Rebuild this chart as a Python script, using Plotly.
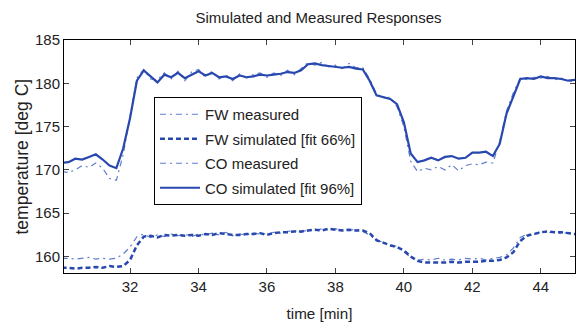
import plotly.graph_objects as go

time_min = [30.0, 30.2, 30.4, 30.6, 30.8, 31.0, 31.2, 31.4, 31.6, 31.8,
            32.0, 32.2, 32.4, 32.6, 32.8, 33.0, 33.2, 33.4, 33.6, 33.8,
            34.0, 34.2, 34.4, 34.6, 34.8, 35.0, 35.2, 35.4, 35.6, 35.8,
            36.0, 36.2, 36.4, 36.6, 36.8, 37.0, 37.2, 37.4, 37.6, 37.8,
            38.0, 38.2, 38.4, 38.6, 38.8, 39.0, 39.2, 39.4, 39.6, 39.8,
            40.0, 40.2, 40.4, 40.6, 40.8, 41.0, 41.2, 41.4, 41.6, 41.8,
            42.0, 42.2, 42.4, 42.6, 42.8, 43.0, 43.2, 43.4, 43.6, 43.8,
            44.0, 44.2, 44.4, 44.6, 44.8, 45.0]

co_simulated = [170.8, 170.9, 171.3, 171.2, 171.5, 171.8, 171.2, 170.5, 170.2, 172.5,
                176.0, 180.3, 181.5, 180.8, 180.1, 181.0, 180.7, 181.2, 180.6, 181.0,
                181.4, 180.9, 181.2, 180.7, 180.8, 180.5, 180.9, 180.7, 180.8, 181.0,
                180.9, 181.0, 181.1, 181.3, 181.2, 181.5, 182.2, 182.3, 182.1, 182.0,
                181.9, 181.8, 181.9, 181.7, 181.6, 180.3, 178.6, 178.4, 178.2, 177.6,
                175.5, 171.9, 170.9, 171.1, 171.4, 171.1, 171.5, 171.6, 171.3, 171.4,
                172.0, 172.0, 172.1, 171.6, 173.0, 176.5, 178.6, 180.5, 180.6, 180.5,
                180.8, 180.6, 180.6, 180.5, 180.3, 180.4]

co_measured = [169.8, 169.7, 170.0, 170.5, 170.3, 170.8, 170.2, 169.0, 168.8, 171.8,
               176.2, 180.6, 181.6, 180.5, 180.4, 181.2, 180.5, 181.4, 180.3, 181.3,
               181.6, 180.7, 181.4, 180.5, 181.0, 180.3, 181.1, 180.6, 181.0, 181.2,
               180.7, 181.2, 180.9, 181.5, 181.0, 181.7, 182.4, 182.1, 182.4, 181.9,
               182.1, 181.7, 182.3, 181.8, 181.8, 180.5, 178.8, 178.3, 178.4, 177.3,
               175.0, 171.0, 169.8, 170.2, 170.0, 170.4, 170.0, 170.6, 169.9, 170.5,
               170.7, 170.6, 170.9, 170.8, 173.3, 176.8, 178.9, 180.6, 180.4, 180.7,
               180.6, 180.8, 180.4, 180.6, 180.2, 180.3]

fw_simulated = [158.7, 158.7, 158.6, 158.7, 158.7, 158.8, 158.7, 158.9, 158.8, 158.9,
                159.6, 161.3, 162.3, 162.4, 162.2, 162.5, 162.4, 162.5, 162.4, 162.5,
                162.4, 162.6, 162.5, 162.7, 162.6, 162.5, 162.5, 162.6, 162.6, 162.7,
                162.5, 162.7, 162.8, 162.8, 162.9, 162.9, 163.0, 163.1, 163.0, 163.2,
                163.1, 163.0, 163.1, 163.0, 163.0, 162.7, 161.9, 161.6, 161.3, 161.1,
                160.7, 160.0, 159.5, 159.3, 159.3, 159.3, 159.3, 159.4, 159.3, 159.4,
                159.4, 159.4, 159.5, 159.5, 159.6, 159.9, 160.5, 161.8, 162.4, 162.6,
                162.8, 162.9, 162.8, 162.8, 162.7, 162.6]

fw_measured = [159.8, 159.8, 159.7, 159.8, 159.9, 159.7, 159.8, 159.7, 159.8, 160.3,
               161.1, 162.3, 162.6, 162.2, 162.5, 162.3, 162.6, 162.4, 162.6, 162.3,
               162.6, 162.5, 162.7, 162.5, 162.8, 162.4, 162.6, 162.5, 162.7, 162.6,
               162.6, 162.8, 162.7, 162.9, 163.0, 162.8, 163.1, 163.0, 163.2, 163.1,
               163.2, 163.1, 163.0, 163.2, 162.9, 162.5, 161.8, 161.7, 161.2, 161.2,
               160.5, 159.9, 159.6, 159.7, 159.6, 159.8, 159.6, 159.7, 159.6, 159.8,
               159.7, 159.8, 159.6, 159.8, 159.9, 160.2, 161.0, 162.2, 162.6, 162.5,
               162.9, 162.7, 162.9, 162.6, 162.8, 162.5]

x_ticks = [32, 34, 36, 38, 40, 42, 44]
y_ticks = [160, 165, 170, 175, 180, 185]

MEAS = "rgb(95,125,205)"
SIM = "rgb(40,72,175)"
FONT = "Liberation Sans, Arial, sans-serif"

fig = go.Figure()
fig.add_trace(go.Scatter(x=time_min, y=fw_measured, mode="lines", name="FW measured",
                         legendgroup="a",
                         line=dict(color=MEAS, width=1.2, dash="6px,4px,2px,4px")))
fig.add_trace(go.Scatter(x=time_min, y=fw_simulated, mode="lines", name="FW simulated [fit 66%]",
                         legendgroup="b",
                         line=dict(color=SIM, width=2.5, dash="5px,3px")))
fig.add_trace(go.Scatter(x=time_min, y=co_measured, mode="lines", name="CO measured",
                         legendgroup="c",
                         line=dict(color=MEAS, width=1.2, dash="6px,4px,2px,4px")))
fig.add_trace(go.Scatter(x=time_min, y=co_simulated, mode="lines", name="CO simulated [fit 96%]",
                         legendgroup="d",
                         line=dict(color=SIM, width=2.2)))

fig.update_layout(
    width=576, height=323,
    margin=dict(l=64, r=1, t=40, b=50),
    paper_bgcolor="white", plot_bgcolor="white",
    font=dict(family=FONT, size=15, color="#222"),
    title=dict(text="Simulated and Measured Responses", x=0.553, xanchor="center",
               y=1 - 18 / 323, yanchor="middle", font=dict(size=15, color="#222")),
    showlegend=True,
    legend=dict(x=(154 - 64) / 511, y=(273 - 97) / 233, xanchor="left", yanchor="top",
                bgcolor="white", bordercolor="black", borderwidth=1,
                font=dict(size=15, color="#222"), tracegroupgap=2,
                traceorder="grouped", itemwidth=40),
    annotations=[dict(text="temperature [deg C]", textangle=-90, xref="paper", yref="paper",
                      x=(21 - 64) / 511, y=0.5, xanchor="center", yanchor="middle",
                      showarrow=False, font=dict(size=17.5, color="#222"))],
)
fig.update_xaxes(range=[30.07, 45.0], tickvals=x_ticks, ticks="inside", ticklen=5,
                 showline=True, linecolor="black", linewidth=1, mirror="ticks",
                 showgrid=False, zeroline=False,
                 title=dict(text="time [min]", standoff=14, font=dict(size=15.2)))
fig.update_yaxes(range=[158.1, 185.0], tickvals=y_ticks, ticks="inside", ticklen=5,
                 showline=True, linecolor="black", linewidth=1, mirror="ticks",
                 showgrid=False, zeroline=False)

fig.write_html("out.html")
